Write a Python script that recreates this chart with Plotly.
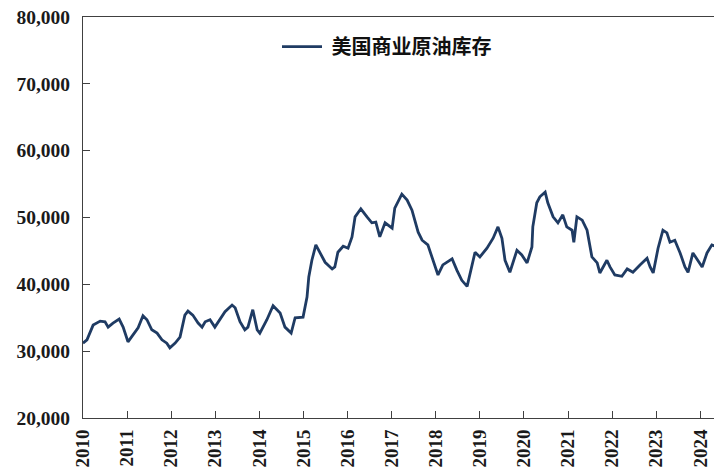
import plotly.graph_objects as go

# Decimal-year time stamps
time_year = [
    2010.00, 2010.09, 2010.23, 2010.39, 2010.50, 2010.57, 2010.68, 2010.82, 2010.91,
    2011.02, 2011.13, 2011.25, 2011.36, 2011.45, 2011.56, 2011.68, 2011.79, 2011.90, 2011.97,
    2012.09, 2012.20, 2012.31, 2012.38, 2012.49, 2012.61, 2012.70, 2012.77, 2012.88, 2012.99,
    2013.11, 2013.22, 2013.38, 2013.45, 2013.56, 2013.67, 2013.74, 2013.85, 2013.95,
    2014.01, 2014.17, 2014.31, 2014.47, 2014.58, 2014.72, 2014.81, 2014.99,
    2015.08, 2015.12, 2015.19, 2015.28, 2015.37, 2015.49, 2015.65, 2015.71, 2015.78, 2015.90,
    2016.01, 2016.10, 2016.17, 2016.30, 2016.44, 2016.55, 2016.64, 2016.73, 2016.85,
    2017.01, 2017.07, 2017.23, 2017.35, 2017.46, 2017.60, 2017.69, 2017.82, 2017.98,
    2018.05, 2018.16, 2018.37, 2018.48, 2018.59, 2018.71, 2018.82, 2018.89,
    2019.00, 2019.16, 2019.30, 2019.41, 2019.50, 2019.57, 2019.68, 2019.84, 2019.95,
    2020.07, 2020.18, 2020.20, 2020.29, 2020.36, 2020.48, 2020.54, 2020.66, 2020.77, 2020.88, 2020.97,
    2021.09, 2021.13, 2021.20, 2021.32, 2021.43, 2021.54, 2021.66, 2021.72, 2021.88, 2021.95,
    2022.06, 2022.22, 2022.34, 2022.47, 2022.63, 2022.79, 2022.86, 2022.93,
    2023.04, 2023.15, 2023.24, 2023.31, 2023.42, 2023.54, 2023.65, 2023.72, 2023.83, 2023.95,
    2024.04, 2024.15, 2024.26, 2024.38, 2024.44, 2024.49,
]

# US commercial crude inventory
inventory = [
    31200, 31700, 33900, 34500, 34400, 33600, 34200, 34800, 33600,
    31400, 32400, 33500, 35300, 34700, 33200, 32700, 31700, 31200, 30500,
    31200, 32100, 35400, 36000, 35400, 34200, 33600, 34400, 34700, 33600,
    34700, 35900, 36900, 36500, 34400, 33200, 33600, 36200, 33200,
    32700, 34700, 36800, 35700, 33600, 32700, 35000, 35100,
    38100, 41100, 43600, 45900, 44800, 43300, 42300, 42600, 44800, 45700,
    45400, 47100, 50100, 51300, 50100, 49200, 49300, 47100, 49200,
    48400, 51400, 53500, 52600, 51100, 47800, 46600, 45900, 42600,
    41400, 42900, 43800, 42100, 40600, 39700, 42600, 44800,
    44100, 45400, 46900, 48600, 46900, 43600, 41800, 45100, 44400,
    43200, 45600, 48600, 52200, 53100, 53800, 52200, 50100, 49200, 50400, 48600,
    48100, 46300, 50100, 49600, 48100, 44100, 43200, 41700, 43600, 42600,
    41400, 41200, 42300, 41800, 42900, 43900, 42600, 41700,
    45400, 48100, 47700, 46300, 46600, 44700, 42600, 41800, 44700, 43600,
    42600, 44700, 45900, 45600, 45900, 45100,
]

series_name = "美国商业原油库存"
year_ticks = list(range(2010, 2025))
year_labels = [str(y) for y in year_ticks]
y_ticks = [20000, 30000, 40000, 50000, 60000, 70000, 80000]

fig = go.Figure()
fig.add_trace(go.Scatter(
    x=time_year, y=inventory, mode="lines", name="\u00a0" + series_name,
    line=dict(color="#1f3b63", width=2.8),
))

serif = "Liberation Serif, Times New Roman, serif"
# the page body has an 8px default margin, so the figure is 8px smaller
fig.update_layout(
    width=714, height=462,
    margin=dict(l=75, r=0, t=9, b=52, autoexpand=False),
    paper_bgcolor="white", plot_bgcolor="white",
    showlegend=True,
    legend=dict(
        x=0.3036, y=0.975, xanchor="left", yanchor="top",
        bgcolor="rgba(0,0,0,0)", itemwidth=40,
        font=dict(family="Noto Sans CJK SC", size=20, color="#111111", weight="bold"),
    ),
    xaxis=dict(
        range=[2010, 2024.49],
        tickmode="array", tickvals=year_ticks, ticktext=year_labels,
        tickangle=-90,
        ticks="inside", ticklen=7, tickcolor="#404040",
        showline=True, linecolor="#404040", linewidth=1, mirror=True,
        showgrid=False, zeroline=False, automargin=False,
        ticklabelstandoff=3, ticklabeloverflow="allow",
        tickfont=dict(family=serif, size=19, color="#1a1a1a", weight="bold"),
    ),
    yaxis=dict(
        range=[20000, 80000],
        tickmode="array", tickvals=y_ticks,
        tickformat=",d",
        ticks="inside", ticklen=7, tickcolor="#404040",
        showline=True, linecolor="#404040", linewidth=1,
        showgrid=False, zeroline=False, automargin=False,
        ticklabelstandoff=8, ticklabeloverflow="allow",
        tickfont=dict(family=serif, size=19.5, color="#1a1a1a", weight="bold"),
    ),
)

fig.write_html("out.html")
